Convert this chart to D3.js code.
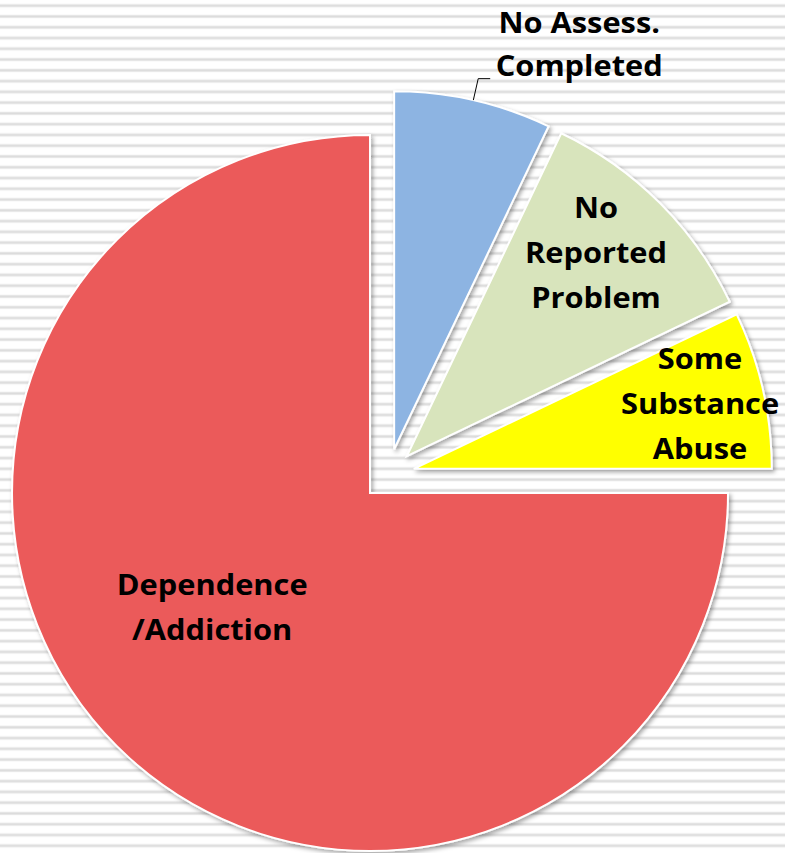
<!DOCTYPE html>
<html>
<head>
<meta charset="utf-8">
<script src="https://cdn.jsdelivr.net/npm/d3@7/dist/d3.min.js"></script>
<style>
  html, body { margin: 0; padding: 0; background: #fff; }
  svg { display: block; }
  .lbl { font-family: "Open Sans", sans-serif; font-weight: 700; font-size: 28px; fill: #000; }
</style>
</head>
<body>
<svg id="chart" width="785" height="853"></svg>
<script>
// Share of clients by substance use assessment outcome (percent)
const categories = ["No Assess. Completed", "No Reported Problem", "Some Substance Abuse", "Dependence /Addiction"];
const values = [7.1, 10.8, 7.1, 75.0];
const labelLines = [["No Assess.", "Completed"], ["No", "Reported", "Problem"], ["Some", "Substance", "Abuse"], ["Dependence", "/Addiction"]];
const colors = ["#8DB4E2", "#D8E4BC", "#FFFF00", "#EB5A5A"];

// Layout
const W = 785, H = 853;
const cx = 388.4, cy = 474.6;   // pie centre before explosion
const R = 358;                  // radius
const explode = 26;             // outward offset of every slice
const lineGap = 45;             // label line spacing
const textScaleX = 1.1;
// label placement per slice: fraction of radius, angular shift (deg) from bisector
const labelPlace = [null, { f: 0.775, shift: -2 }, { f: 0.82, shift: 0 }, { f: 0.545, shift: 9 }];

const svg = d3.select("#chart");
const defs = svg.append("defs");

// striped background
const pat = defs.append("pattern")
  .attr("id", "stripes").attr("patternUnits", "userSpaceOnUse")
  .attr("width", 20).attr("height", 10.77)
  .attr("y", 0.4);
pat.append("rect").attr("width", 20).attr("height", 10.77).attr("fill", "#ffffff");
pat.append("rect").attr("y", 3.6).attr("width", 20).attr("height", 3.4).attr("fill", "#ededed");
pat.append("rect").attr("y", 4.4).attr("width", 20).attr("height", 1.8).attr("fill", "#dcdcdc");
svg.append("rect").attr("width", W).attr("height", H).attr("fill", "url(#stripes)");

// soft drop shadow behind slices
const f = defs.append("filter").attr("id", "shadow")
  .attr("x", "-10%").attr("y", "-10%").attr("width", "120%").attr("height", "120%");
f.append("feDropShadow").attr("dx", 2).attr("dy", 2.5).attr("stdDeviation", 2)
  .attr("flood-color", "#000").attr("flood-opacity", 0.35);

const data = categories.map((c, i) => ({ name: c, value: values[i], color: colors[i], lines: labelLines[i], i }));
const pie = d3.pie().sort(null).value(d => d.value).startAngle(0).endAngle(2 * Math.PI);
const arcs = pie(data);
const arc = d3.arc().innerRadius(0).outerRadius(R);

const mid = d => (d.startAngle + d.endAngle) / 2;
const offset = (d, dist) => [Math.sin(mid(d)) * dist, -Math.cos(mid(d)) * dist];

const g = svg.append("g").attr("transform", `translate(${cx},${cy})`);

const slices = g.selectAll("g.slice").data(arcs).join("g")
  .attr("class", "slice")
  .attr("transform", d => { const [dx, dy] = offset(d, explode); return `translate(${dx},${dy})`; });

slices.append("path")
  .attr("d", arc)
  .attr("fill", d => d.data.color)
  .attr("stroke", "#fff").attr("stroke-width", 2).attr("stroke-linejoin", "miter")
  .attr("filter", "url(#shadow)");

// labels inside slices
slices.filter(d => labelPlace[d.data.i]).each(function (d) {
  const p = labelPlace[d.data.i];
  const a = mid(d) + p.shift * Math.PI / 180;
  const x = Math.sin(a) * R * p.f, y = -Math.cos(a) * R * p.f;
  const n = d.data.lines.length;
  const t = d3.select(this).append("text").attr("class", "lbl")
    .attr("text-anchor", "middle")
    .attr("transform", `translate(${x},${y}) scale(${textScaleX},1)`);
  d.data.lines.forEach((s, k) => {
    t.append("tspan").attr("x", 0)
      .attr("y", (k - (n - 1) / 2) * lineGap + 10)
      .text(s);
  });
});

// outside label with leader line for the first slice
slices.filter(d => d.data.i === 0).each(function (d) {
  const a = mid(d);
  const p0 = [Math.sin(a) * R, -Math.cos(a) * R];
  const p1 = [Math.sin(a) * (R + 22), -Math.cos(a) * (R + 22)];
  const p2 = [p1[0] + 12, p1[1]];
  const sel = d3.select(this);
  sel.append("path")
    .attr("d", d3.line()([p0, p1, p2]))
    .attr("fill", "none").attr("stroke", "#000").attr("stroke-width", 1);
  const lx = p2[0] + 89, ly = p1[1] - 56;
  const t = sel.append("text").attr("class", "lbl")
    .attr("text-anchor", "middle")
    .attr("transform", `translate(${lx},${ly}) scale(${textScaleX},1)`);
  d.data.lines.forEach((s, k) => {
    t.append("tspan").attr("x", 0).attr("y", k * 43 + 10).text(s);
  });
});
</script>
</body>
</html>
